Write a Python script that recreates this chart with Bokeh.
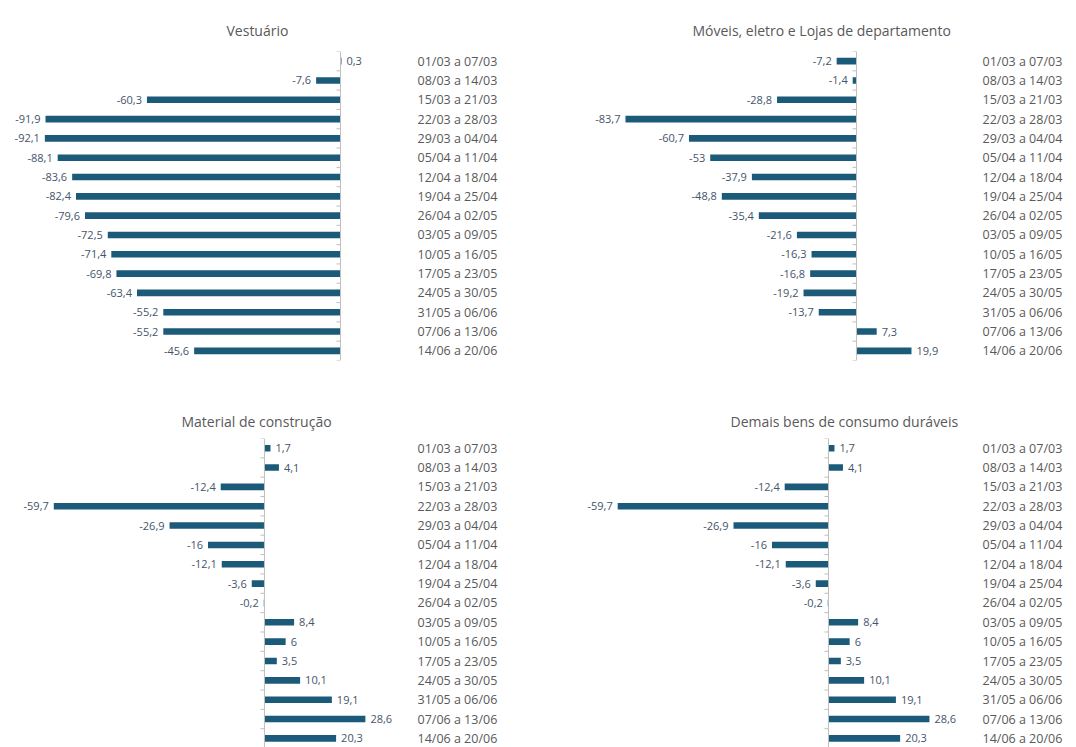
from bokeh.plotting import figure
from bokeh.models import ColumnDataSource, Range1d, Span, FixedTicker
from bokeh.layouts import column, row
from bokeh.embed import file_html
from bokeh.resources import INLINE

# ---------------- data ----------------
weeks = ["01/03 a 07/03", "08/03 a 14/03", "15/03 a 21/03", "22/03 a 28/03",
         "29/03 a 04/04", "05/04 a 11/04", "12/04 a 18/04", "19/04 a 25/04",
         "26/04 a 02/05", "03/05 a 09/05", "10/05 a 16/05", "17/05 a 23/05",
         "24/05 a 30/05", "31/05 a 06/06", "07/06 a 13/06", "14/06 a 20/06"]

vestuario = [0.3, -7.6, -60.3, -91.9, -92.1, -88.1, -83.6, -82.4, -79.6,
             -72.5, -71.4, -69.8, -63.4, -55.2, -55.2, -45.6]
moveis = [-7.2, -1.4, -28.8, -83.7, -60.7, -53, -37.9, -48.8, -35.4,
          -21.6, -16.3, -16.8, -19.2, -13.7, 7.3, 19.9]
material = [1.7, 4.1, -12.4, -59.7, -26.9, -16, -12.1, -3.6, -0.2,
            8.4, 6, 3.5, 10.1, 19.1, 28.6, 20.3]
demais = [1.7, 4.1, -12.4, -59.7, -26.9, -16, -12.1, -3.6, -0.2,
          8.4, 6, 3.5, 10.1, 19.1, 28.6, 20.3]

titles = ["Vestuário", "Móveis, eletro e Lojas de departamento",
          "Material de construção", "Demais bens de consumo duráveis"]

# ---------------- style ----------------
BAR = "#1B5A78"
LABEL_C = "#44546A"
CAT_C = "#595959"
AXIS_C = "#BFBFBF"
FONT = "Open Sans"

n = len(weeks)
ypos = list(range(n))
bounds = [i - 0.5 for i in range(n + 1)]


def fmt(v):
    return f"{v:g}".replace(".", ",")


def panel(title, vals, W, H, frame_right, x_start, x_end, top, bottom,
          y_bottom, t_left, t_stand):
    scale = frame_right / (x_end - x_start)
    p = figure(width=W, height=H, output_backend="svg", toolbar_location=None,
               y_range=Range1d(y_bottom, -0.5),
               x_range=Range1d(x_start, x_end),
               y_axis_location="right", x_axis_location=None,
               min_border_left=0, min_border_right=W - frame_right,
               min_border_top=top, min_border_bottom=bottom)
    p.outline_line_color = None
    p.grid.visible = False
    p.background_fill_color = "white"
    p.border_fill_color = "white"

    ax = p.yaxis[0]
    ax.ticker = FixedTicker(ticks=ypos)
    ax.major_label_overrides = {i: w for i, w in zip(ypos, weeks)}
    ax.axis_line_color = None
    ax.major_tick_line_color = None
    ax.minor_tick_line_color = None
    ax.major_tick_out = 0
    ax.major_tick_in = 0
    ax.major_label_standoff = 2
    ax.major_label_text_font = FONT
    ax.major_label_text_font_size = "12.5px"
    ax.major_label_text_color = CAT_C

    p.title.text = title
    p.title.align = "left"
    p.title.offset = t_left
    p.title.standoff = t_stand
    p.title.text_font = FONT
    p.title.text_font_size = "14px"
    p.title.text_font_style = "normal"
    p.title.text_color = CAT_C

    src = ColumnDataSource(dict(
        y=ypos, val=vals,
        lab=[fmt(v) for v in vals],
        align=["left" if v >= 0 else "right" for v in vals],
        off=[5 if v >= 0 else -5 for v in vals],
    ))

    p.hbar(y="y", left=0, right="val", height=0.34, source=src,
           fill_color=BAR, line_color=None)

    p.add_layout(Span(location=0, dimension="height", line_color=AXIS_C, line_width=1))
    p.segment(x0=[0] * len(bounds), x1=[-4 / scale] * len(bounds),
              y0=bounds, y1=bounds, line_color=AXIS_C, line_width=1)

    p.text(x="val", y="y", text="lab", source=src, text_align="align",
           x_offset="off", text_baseline="middle", text_font_size="11px",
           text_font={"value": FONT}, text_color=LABEL_C)
    return p


W1, W2 = 530, 546
H1, H2 = 400, 347

p1 = panel(titles[0], vestuario, W1, H1, 415, -105.92, 23.36, 51, 40, 15.5, 226, 24)
p2 = panel(titles[1], moveis, W2, H1, 450, -118.1, 44.9, 51, 40, 15.5, 162, 24)
p3 = panel(titles[2], material, W1, H2, 415, -74.8, 42.8, 38, 0, 15.47, 181, 16)
p4 = panel(titles[3], demais, W2, H2, 450, -84.4, 43.06, 38, 0, 15.47, 200, 16)

layout = column(row(p1, p2), row(p3, p4))
open("out.html", "w").write(file_html(layout, INLINE))
